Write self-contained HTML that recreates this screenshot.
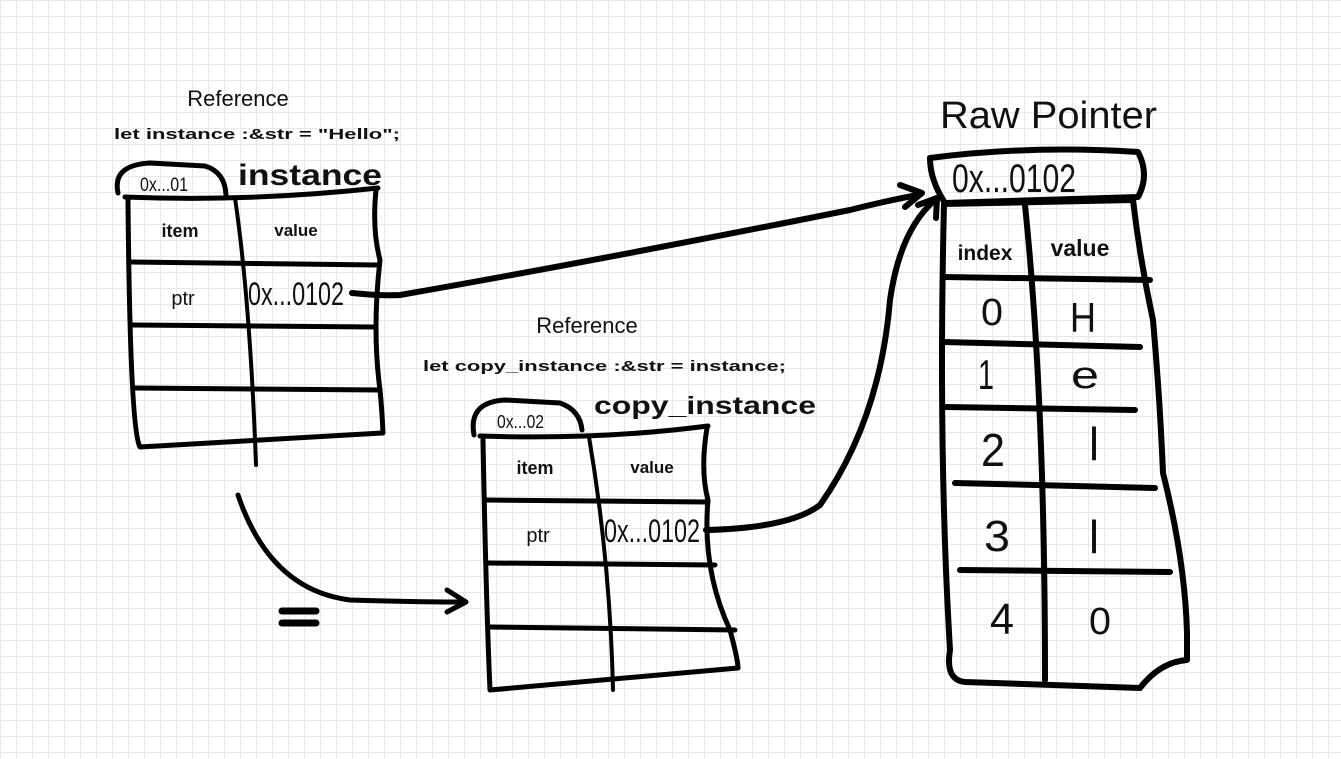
<!DOCTYPE html>
<html><head><style>
html,body{margin:0;padding:0;}
body{width:1341px;height:759px;overflow:hidden;background:#fff;
background-image:linear-gradient(#e8e8e8 1px,transparent 1px),linear-gradient(90deg,#e8e8e8 1px,transparent 1px);
background-size:16px 16px;}
svg{position:absolute;left:0;top:0;}
text{font-family:"Liberation Sans",sans-serif;fill:#111;}
.b{font-weight:bold;}
</style></head><body>
<svg width="1341" height="759" viewBox="0 0 1341 759" fill="none" stroke="#000" stroke-linecap="round" stroke-linejoin="round">
<!-- Table 1 -->
<text x="238" y="106" font-size="22" text-anchor="middle" stroke="none">Reference</text>
<text x="114" y="139" font-size="15" class="b" stroke="none" textLength="286" lengthAdjust="spacingAndGlyphs">let instance :&amp;str = "Hello";</text>
<text x="238" y="185" font-size="30" class="b" stroke="none" textLength="144" lengthAdjust="spacingAndGlyphs">instance</text>
<path d="M118,193 Q112,165 150,163 L205,166 Q225,172 226,195" stroke-width="5"/>
<text x="140" y="191" font-size="19" stroke="none" textLength="48" lengthAdjust="spacingAndGlyphs">0x...01</text>
<path d="M125,197 Q250,202 378,188 M376,190 Q372,230 380,260 Q372,330 380,390 Q382,410 383,433 L140,447 Q130,430 128,200" stroke-width="5"/>
<path d="M235,198 Q250,300 256,465" stroke-width="4"/>
<path d="M130,262 L378,265 M132,325 L375,327 M133,388 L380,390" stroke-width="5"/>
<text x="180" y="237" font-size="18" class="b" text-anchor="middle" stroke="none">item</text>
<text x="296" y="236" font-size="17" class="b" text-anchor="middle" stroke="none">value</text>
<text x="183" y="305" font-size="20" text-anchor="middle" stroke="none">ptr</text>
<text x="248" y="305" font-size="32" stroke="none" textLength="96" lengthAdjust="spacingAndGlyphs">0x...0102</text>
<!-- Table 2 -->
<text x="587" y="333" font-size="22" text-anchor="middle" stroke="none">Reference</text>
<text x="423" y="371" font-size="15" class="b" stroke="none" textLength="363" lengthAdjust="spacingAndGlyphs">let copy_instance :&amp;str = instance;</text>
<text x="594" y="414" font-size="25" class="b" stroke="none" textLength="222" lengthAdjust="spacingAndGlyphs">copy_instance</text>
<path d="M474,435 Q468,402 505,400 L560,403 Q580,410 582,430" stroke-width="5"/>
<text x="497" y="428" font-size="18" stroke="none" textLength="47" lengthAdjust="spacingAndGlyphs">0x...02</text>
<path d="M480,436 Q600,440 708,426 M707,428 Q700,470 708,500 Q702,570 730,630 Q738,660 738,668 L490,690 Q486,600 483,440" stroke-width="5"/>
<path d="M589,437 Q610,560 613,690" stroke-width="4"/>
<path d="M485,500 L708,502 M487,563 L715,565 M488,627 L735,630" stroke-width="5"/>
<text x="535" y="474" font-size="18" class="b" text-anchor="middle" stroke="none">item</text>
<text x="652" y="473" font-size="17" class="b" text-anchor="middle" stroke="none">value</text>
<text x="538" y="542" font-size="20" text-anchor="middle" stroke="none">ptr</text>
<text x="604" y="542" font-size="32" stroke="none" textLength="96" lengthAdjust="spacingAndGlyphs">0x...0102</text>
<!-- Raw pointer -->
<text x="940" y="128" font-size="38" stroke="none" textLength="217" lengthAdjust="spacingAndGlyphs">Raw Pointer</text>
<path d="M930,158 Q1030,145 1138,152 Q1150,175 1138,197 L945,203 Q930,180 930,158 Z" stroke-width="6"/>
<text x="952" y="192" font-size="40" stroke="none" textLength="124" lengthAdjust="spacingAndGlyphs">0x...0102</text>
<path d="M944,204 L1133,200 Q1140,260 1153,320 Q1160,400 1163,473 Q1185,560 1187,633 L1187,660 Q1160,662 1140,688 L965,682 Q945,680 950,650 Q938,450 944,204" stroke-width="6"/>
<path d="M1025,205 Q1045,400 1045,680" stroke-width="6"/>
<path d="M943,277 L1150,280 M943,342 L1140,347 M945,407 L1135,410 M955,483 L1155,488 M960,570 L1170,572" stroke-width="6"/>
<text x="985" y="260" font-size="21" class="b" text-anchor="middle" stroke="none">index</text>
<text x="1080" y="256" font-size="23" class="b" text-anchor="middle" stroke="none">value</text>
<g stroke="none" text-anchor="middle" fill="#222">
<text x="992" y="325" font-size="38" textLength="22" lengthAdjust="spacingAndGlyphs">0</text>
<text x="1083" y="332" font-size="42" textLength="26" lengthAdjust="spacingAndGlyphs">H</text>
<text x="986" y="389" font-size="42" textLength="16" lengthAdjust="spacingAndGlyphs">1</text>
<text x="1085" y="388" font-size="38" textLength="28" lengthAdjust="spacingAndGlyphs">e</text>
<text x="993" y="466" font-size="46" textLength="24" lengthAdjust="spacingAndGlyphs">2</text>
<text x="1094" y="460" font-size="46" textLength="10" lengthAdjust="spacingAndGlyphs">l</text>
<text x="997" y="551" font-size="44" textLength="26" lengthAdjust="spacingAndGlyphs">3</text>
<text x="1094" y="553" font-size="46" textLength="10" lengthAdjust="spacingAndGlyphs">l</text>
<text x="1002" y="634" font-size="44" textLength="24" lengthAdjust="spacingAndGlyphs">4</text>
<text x="1100" y="634" font-size="38" textLength="22" lengthAdjust="spacingAndGlyphs">0</text>
</g>
<!-- arrows -->
<path d="M352,293 Q380,296 400,295 Q600,260 850,210 Q890,200 918,195" stroke-width="6"/>
<path d="M900,185 L922,193 L905,207" stroke-width="6"/>
<path d="M706,530 Q790,528 820,505 Q880,420 890,300 Q900,230 935,200" stroke-width="6"/>
<path d="M918,205 L937,198 L936,218" stroke-width="6"/>
<path d="M238,495 Q270,590 350,600 Q420,602 462,602" stroke-width="5"/>
<path d="M447,590 L466,602 L447,612" stroke-width="5"/>
<path d="M282,611 L316,611 M282,623 L316,623" stroke-width="7"/>
</svg>
</body></html>
